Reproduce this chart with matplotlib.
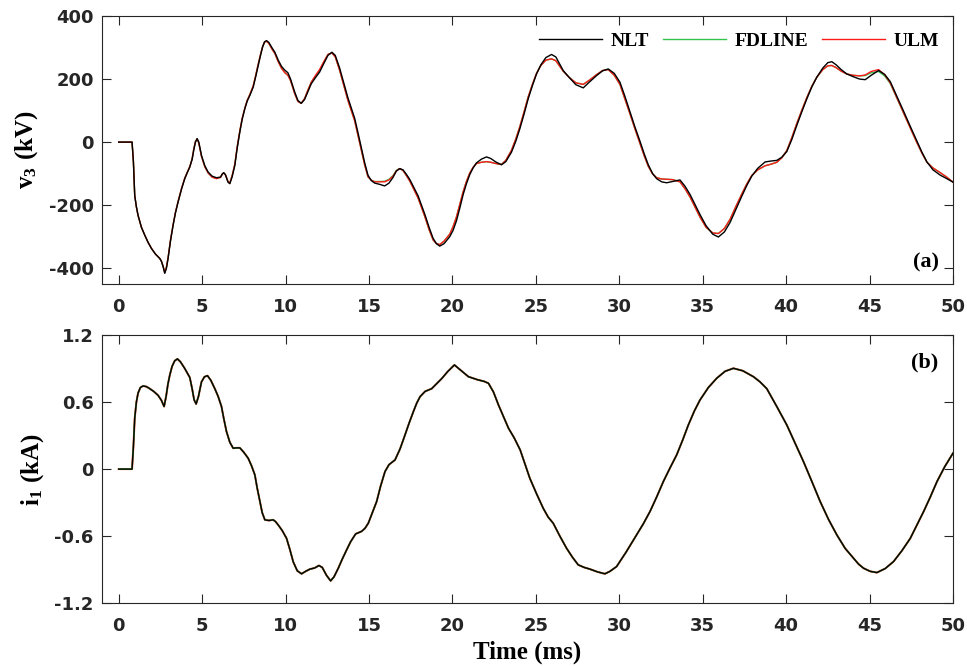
import matplotlib
matplotlib.use('Agg')
import matplotlib.pyplot as plt

# ---- (a) v3 (kV) ----
t_v = [0, 0.8, 0.88, 0.96, 1.06, 1.16, 1.36, 1.56, 1.76, 1.96, 2.2, 2.46, 2.56, 2.66,
       2.76, 2.86, 2.96, 3.1, 3.26, 3.4, 3.56, 3.76, 3.96, 4.1, 4.26, 4.4, 4.5, 4.6,
       4.7, 4.8, 4.96, 5.16, 5.36, 5.6, 5.86, 6.1, 6.22, 6.3, 6.4, 6.55, 6.66, 6.8,
       6.96, 7.1, 7.26, 7.4, 7.56, 7.7, 7.86, 8.06, 8.2, 8.36, 8.5, 8.62, 8.74, 8.86,
       9.0, 9.2, 9.36, 9.56, 9.76, 9.96, 10.14, 10.3, 10.54, 10.74, 10.94, 11.14, 11.34, 11.54,
       11.8, 12.04, 12.3, 12.54, 12.78, 12.98, 13.24, 13.5, 13.74, 14.14, 14.34, 14.54, 14.74, 14.94,
       15.14, 15.34, 15.64, 15.94, 16.2, 16.44, 16.64, 16.84, 17.04, 17.24, 17.44, 17.94, 18.34, 18.6,
       18.84, 19.04, 19.24, 19.5, 19.84, 20.04, 20.24, 20.44, 20.64, 20.84, 21.04, 21.24, 21.44, 21.74,
       22.04, 22.3, 22.6, 22.94, 23.2, 23.54, 23.8, 24.04, 24.3, 24.54, 24.8, 25.04, 25.3, 25.6,
       25.94, 26.2, 26.64, 27.0, 27.4, 27.84, 28.2, 28.64, 29.0, 29.34, 29.7, 30.04, 30.34, 30.64,
       30.94, 31.24, 31.5, 31.74, 32.0, 32.24, 32.54, 32.84, 33.2, 33.64, 33.94, 34.24, 34.54, 34.84,
       35.2, 35.6, 35.94, 36.3, 36.64, 37.0, 37.34, 37.64, 37.94, 38.3, 38.74, 39.1, 39.44, 39.74,
       40.04, 40.34, 40.64, 40.94, 41.24, 41.54, 41.84, 42.2, 42.5, 42.74, 43.0, 43.3, 43.64, 44.0,
       44.4, 44.74, 45.1, 45.54, 45.9, 46.24, 46.6, 47.04, 47.44, 47.84, 48.14, 48.44, 48.8, 49.24,
       49.6, 50.0]
v_nlt = [0, 0, -60, -169, -205, -232, -270, -295, -318, -337, -355, -369, -378, -395,
         -416, -400, -369, -315, -264, -225, -190, -150, -116, -98, -79, -55, -25, 0,
         11, 0, -42, -75, -95, -108, -113, -111, -100, -97, -104, -127, -132, -110,
         -74, -20, 32, 72, 106, 130, 148, 174, 205, 243, 275, 301, 318, 322,
         316, 298, 285, 260, 240, 228, 220, 200, 160, 132, 123, 135, 160, 185,
         205, 222, 250, 275, 285, 275, 235, 185, 140, 76, 30, -18, -65, -105,
         -122, -130, -134, -139, -130, -112, -92, -84, -88, -102, -118, -170, -228, -270,
         -305, -322, -330, -322, -300, -280, -250, -210, -167, -132, -103, -82, -66, -54,
         -47, -52, -63, -72, -62, -32, 3, 42, 90, 137, 180, 216, 245, 268,
         278, 270, 227, 205, 182, 172, 190, 211, 226, 232, 218, 190, 145, 97,
         48, 3, -38, -72, -100, -116, -126, -129, -125, -120, -140, -166, -198, -230,
         -265, -292, -301, -285, -255, -212, -172, -138, -108, -83, -63, -60, -58, -48,
         -30, 8, 53, 96, 137, 175, 206, 235, 252, 255, 245, 230, 216, 208,
         200, 198, 212, 227, 215, 192, 150, 98, 50, 3, -32, -63, -88, -105,
         -115, -127]
v_fdline = [0, 0, -62, -170, -206, -233, -270, -295, -318, -337, -355, -369, -378, -393,
            -414, -397, -366, -312, -262, -223, -188, -148, -114, -97, -78, -53, -22, 2,
            10, -3, -45, -78, -98, -111, -115, -112, -101, -98, -104, -125, -130, -106,
            -70, -15, 36, 75, 108, 132, 151, 178, 209, 247, 278, 302, 317, 320,
            313, 294, 281, 255, 234, 220, 212, 195, 155, 129, 123, 138, 165, 190,
            210, 228, 255, 278, 283, 270, 228, 178, 132, 68, 22, -25, -72, -110,
            -121, -125, -125, -124, -118, -106, -90, -84, -90, -106, -123, -177, -235, -277,
            -310, -322, -325, -314, -292, -268, -238, -198, -158, -125, -98, -80, -68, -64,
            -62, -64, -68, -71, -58, -26, 10, 49, 97, 143, 184, 218, 243, 260,
            264, 258, 225, 205, 188, 183, 196, 214, 227, 230, 212, 183, 137, 90,
            42, -4, -44, -77, -101, -113, -117, -118, -119, -126, -148, -174, -206, -238,
            -270, -288, -290, -274, -245, -203, -165, -133, -106, -88, -75, -70, -64, -50,
            -27, 14, 59, 101, 141, 177, 206, 230, 242, 243, 236, 225, 216, 212,
            210, 211, 220, 224, 210, 186, 144, 92, 45, -2, -35, -64, -82, -97,
            -110, -127]
v_ulm = [0, 0, -62, -170, -206, -233, -270, -295, -318, -337, -355, -369, -378, -393,
         -414, -397, -366, -312, -262, -223, -188, -148, -114, -97, -78, -53, -22, 2,
         10, -3, -45, -78, -98, -111, -116, -112, -101, -98, -104, -125, -130, -106,
         -70, -15, 36, 75, 108, 132, 151, 178, 209, 247, 278, 302, 317, 320,
         313, 294, 281, 255, 234, 220, 212, 195, 155, 129, 123, 138, 165, 190,
         212, 230, 256, 278, 283, 270, 228, 178, 132, 68, 22, -25, -72, -110,
         -121, -126, -126, -126, -120, -108, -91, -84, -90, -106, -123, -177, -235, -277,
         -310, -322, -325, -314, -292, -268, -238, -198, -158, -125, -98, -80, -68, -64,
         -62, -64, -68, -71, -58, -26, 10, 49, 97, 143, 184, 218, 243, 260,
         264, 258, 225, 205, 188, 183, 196, 214, 227, 230, 212, 183, 137, 90,
         42, -4, -44, -77, -101, -113, -117, -118, -119, -126, -148, -174, -206, -238,
         -270, -288, -290, -274, -245, -203, -165, -133, -106, -88, -75, -70, -64, -50,
         -27, 14, 59, 101, 141, 177, 206, 230, 242, 243, 236, 225, 216, 212,
         210, 213, 224, 230, 214, 188, 145, 92, 45, -2, -35, -64, -82, -97,
         -110, -127]

# ---- (b) i1 (kA) ----
t_i = [0, 0.8, 0.88, 0.96, 1.06, 1.16, 1.3, 1.46, 1.66, 1.86, 2.1, 2.36, 2.56, 2.72,
       2.84, 2.95, 3.06, 3.2, 3.36, 3.52, 3.7, 3.96, 4.26, 4.4, 4.52, 4.64, 4.78, 4.96,
       5.14, 5.32, 5.52, 5.76, 5.96, 6.16, 6.3, 6.46, 6.66, 6.86, 7.06, 7.26, 7.5, 7.76,
       7.96, 8.16, 8.3, 8.46, 8.6, 8.76, 9.0, 9.26, 9.4, 9.56, 9.8, 10.06, 10.26, 10.46,
       10.7, 10.96, 11.2, 11.46, 11.74, 12.0, 12.2, 12.45, 12.7, 12.9, 13.16, 13.4, 13.66, 13.9,
       14.2, 14.56, 14.76, 14.96, 15.2, 15.46, 15.7, 15.96, 16.2, 16.56, 16.86, 17.16, 17.4, 17.66,
       17.86, 18.06, 18.36, 18.76, 19.06, 19.36, 19.7, 20.12, 20.5, 20.96, 21.5, 21.9, 22.16, 22.46,
       22.76, 23.06, 23.36, 23.7, 24.06, 24.34, 24.64, 25.04, 25.44, 25.74, 26.04, 26.44, 26.84, 27.2,
       27.54, 27.9, 28.24, 28.7, 29.14, 29.44, 29.84, 30.4, 31.04, 31.44, 31.84, 32.24, 32.64, 33.04,
       33.44, 33.8, 34.14, 34.5, 34.84, 35.34, 35.84, 36.34, 36.84, 37.4, 38.04, 38.44, 38.84, 39.44,
       40.04, 40.54, 41.04, 41.54, 42.04, 42.54, 43.04, 43.54, 44.04, 44.34, 44.64, 45.04, 45.44, 45.94,
       46.44, 46.94, 47.44, 47.84, 48.24, 48.64, 49.04, 49.5, 50.0]
i_nlt = [0, 0, 0.2, 0.455, 0.6, 0.68, 0.73, 0.744, 0.738, 0.72, 0.695, 0.66, 0.615, 0.56,
         0.65, 0.76, 0.84, 0.92, 0.97, 0.986, 0.96, 0.90, 0.82, 0.72, 0.62, 0.583, 0.65, 0.78,
         0.826, 0.836, 0.795, 0.72, 0.65, 0.56, 0.45, 0.336, 0.24, 0.187, 0.19, 0.19, 0.15, 0.097,
         0.03, -0.052, -0.17, -0.29, -0.39, -0.454, -0.46, -0.454, -0.47, -0.5, -0.55, -0.62, -0.72, -0.83,
         -0.91, -0.937, -0.915, -0.895, -0.885, -0.863, -0.88, -0.95, -1.0, -0.965, -0.887, -0.805, -0.723, -0.65,
         -0.58, -0.557, -0.53, -0.484, -0.39, -0.29, -0.15, -0.022, 0.04, 0.082, 0.18, 0.306, 0.41, 0.514,
         0.59, 0.648, 0.695, 0.72, 0.765, 0.81, 0.87, 0.932, 0.885, 0.827, 0.80, 0.785, 0.768, 0.69,
         0.574, 0.47, 0.366, 0.28, 0.172, 0.05, -0.082, -0.22, -0.35, -0.43, -0.484, -0.60, -0.708, -0.79,
         -0.857, -0.88, -0.895, -0.92, -0.937, -0.915, -0.872, -0.745, -0.589, -0.49, -0.38, -0.25, -0.112, 0.01,
         0.127, 0.26, 0.395, 0.52, 0.619, 0.73, 0.813, 0.875, 0.902, 0.88, 0.827, 0.78, 0.72, 0.56,
         0.395, 0.23, 0.067, -0.11, -0.29, -0.45, -0.589, -0.71, -0.797, -0.85, -0.887, -0.915, -0.926, -0.89,
         -0.827, -0.73, -0.62, -0.50, -0.38, -0.25, -0.112, 0.02, 0.142]
i_fdline = list(i_nlt)
i_ulm = list(i_nlt)

x_ticks = [0, 5, 10, 15, 20, 25, 30, 35, 40, 45, 50]
v_ticks = [-400, -200, 0, 200, 400]
i_ticks = [-1.2, -0.6, 0, 0.6, 1.2]
i_ticklabels = ['-1.2', '-0.6', '0', '0.6', '1.2']

plt.rcParams['mathtext.fontset'] = 'custom'
plt.rcParams['mathtext.rm'] = 'Liberation Serif:bold'
plt.rcParams['mathtext.bf'] = 'Liberation Serif:bold'
plt.rcParams['mathtext.it'] = 'Liberation Serif:bold'

GRAY = '#262626'
GREEN = '#33c44d'
RED = '#ff1a1a'
serif = dict(family='Liberation Serif', weight='bold')

fig = plt.figure(figsize=(9.67, 6.66), dpi=100)
ax1 = fig.add_axes([0.1055, 0.5736, 0.88, 0.4024])
ax2 = fig.add_axes([0.1055, 0.0943, 0.88, 0.4027])

for ax in (ax1, ax2):
    ax.set_xlim(-1, 50)
    ax.set_xticks(x_ticks)
    ax.tick_params(direction='in', top=True, right=True, length=6.5, width=0.8,
                   colors=GRAY, labelsize=13)
    ax.tick_params(axis='x', pad=10)
    ax.tick_params(axis='y', pad=6)
    for s in ax.spines.values():
        s.set_color(GRAY)
        s.set_linewidth(0.8)

l1, = ax1.plot(t_v, v_nlt, color='black', lw=1.0, zorder=4, label='NLT')
l2, = ax1.plot(t_v, v_fdline, color=GREEN, lw=1.0, zorder=2, label='FDLINE')
l3, = ax1.plot(t_v, v_ulm, color=RED, lw=1.0, zorder=3, label='ULM')
ax1.set_ylim(-450, 400)
ax1.set_yticks(v_ticks)
ax1.set_yticklabels([str(v) for v in v_ticks], fontweight='bold', family='DejaVu Sans')
ax1.set_ylabel(r'$\mathbf{v_{3}\ (kV)}$', fontsize=18, labelpad=6)
ax1.text(0.983, 0.082, '(a)', transform=ax1.transAxes, ha='right', va='center',
         fontsize=16, **serif)
ax1.legend(handles=[l1, l2, l3], loc='center right', bbox_to_anchor=(0.984, 0.907),
           ncol=3, frameon=False, borderpad=0, borderaxespad=0,
           prop=dict(family='Liberation Serif', weight='bold', size=14),
           handlelength=3.25, handletextpad=0.45, columnspacing=0.7)

ax2.plot(t_i, i_ulm, color=RED, lw=1.4, zorder=2)
ax2.plot(t_i, i_fdline, color=GREEN, lw=1.1, zorder=3)
ax2.plot(t_i, i_nlt, color='black', lw=1.0, zorder=4)
ax2.set_ylim(-1.2, 1.2)
ax2.set_yticks(i_ticks)
ax2.set_yticklabels(i_ticklabels, fontweight='bold', family='DejaVu Sans')
ax2.set_ylabel(r'$\mathbf{i_{1}\ (kA)}$', fontsize=18, labelpad=6)
ax2.set_xlabel('Time (ms)', fontsize=18, labelpad=4, **serif)
ax2.text(0.983, 0.899, '(b)', transform=ax2.transAxes, ha='right', va='center',
         fontsize=16, **serif)

for ax in (ax1, ax2):
    ax.set_xticklabels([str(x) for x in x_ticks], fontweight='bold', family='DejaVu Sans')

fig.savefig('out.png', dpi=100)
